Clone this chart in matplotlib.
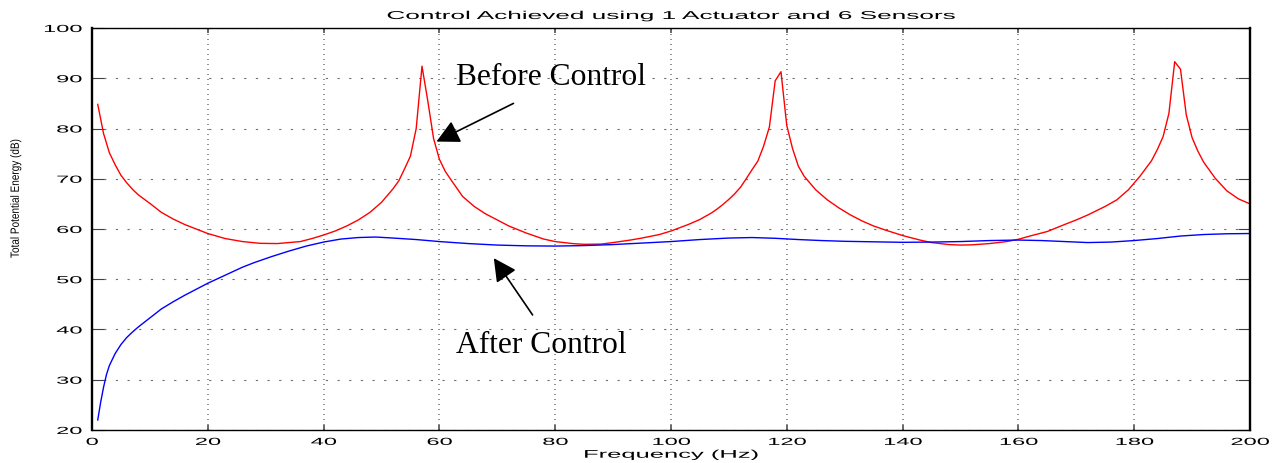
import matplotlib
matplotlib.use('Agg')
import matplotlib.pyplot as plt
from matplotlib.patheffects import AbstractPathEffect
from matplotlib.transforms import Affine2D


# Before control (red) - frequency (Hz) and total potential energy (dB)
freq_before = [1, 2, 3, 4, 5, 6, 7, 8, 10, 12, 14, 16, 18, 20, 23, 26, 29,
               32, 35, 36, 38, 40, 42, 44, 46, 48, 50, 52, 53, 54, 55, 56,
               57, 58, 59, 60, 61, 62, 64, 66, 68, 70, 72, 75, 78, 80, 83,
               85, 88, 90, 93, 95, 98, 100, 103, 105, 107, 108, 109, 110,
               111, 112, 113, 114, 115, 116, 117, 118, 119, 120, 121, 122,
               123, 125, 127, 129, 131, 133, 135, 137, 140, 143, 145, 148,
               150, 152, 155, 158, 160, 162, 165, 168, 170, 172, 175, 177,
               179, 181, 183, 184, 185, 186, 187, 188, 189, 190, 191, 192,
               194, 196, 198, 200]
energy_before = [84.8, 79.0, 75.2, 72.8, 70.7, 69.2, 67.9, 66.8, 65.1, 63.3,
                 62.0, 60.9, 60.0, 59.1, 58.1, 57.5, 57.15, 57.1, 57.4, 57.5,
                 58.1, 58.8, 59.6, 60.6, 61.8, 63.3, 65.3, 68.0, 69.6, 72.0,
                 74.5, 80.0, 92.4, 85.5, 78.0, 73.9, 71.5, 69.8, 66.5, 64.5,
                 63.0, 61.8, 60.6, 59.2, 58.0, 57.5, 57.1, 56.95, 57.0, 57.3,
                 57.8, 58.2, 58.9, 59.6, 60.9, 61.9, 63.2, 64.0, 64.9, 65.9,
                 67.0, 68.3, 70.0, 71.8, 73.5, 76.5, 80.3, 89.5, 91.3, 80.6,
                 76.0, 72.5, 70.5, 67.8, 65.8, 64.2, 62.8, 61.6, 60.6, 59.8,
                 58.7, 57.8, 57.3, 56.9, 56.8, 56.85, 57.1, 57.5, 57.95, 58.6,
                 59.5, 60.9, 61.8, 62.8, 64.5, 65.8, 67.8, 70.5, 73.6, 75.8,
                 78.4, 83.0, 93.3, 91.8, 82.7, 78.2, 75.5, 73.3, 70.1, 67.6,
                 66.0, 65.0]

# After control (blue)
freq_after = [1, 1.5, 2, 2.5, 3, 4, 5, 6, 7, 8, 10, 12, 14, 16, 18, 20, 23,
              26, 28, 31, 34, 37, 40, 43, 46, 49, 52, 56, 60, 65, 70, 75, 80,
              85, 90, 95, 100, 105, 110, 114, 118, 122, 126, 130, 135, 140,
              145, 150, 155, 160, 164, 168, 172, 176, 180, 184, 188, 192,
              196, 200]
energy_after = [22.0, 25.5, 28.5, 31.0, 32.8, 35.2, 37.0, 38.4, 39.5, 40.5,
                42.3, 44.1, 45.5, 46.8, 48.0, 49.2, 50.8, 52.4, 53.3, 54.5,
                55.6, 56.6, 57.4, 58.0, 58.3, 58.4, 58.2, 57.9, 57.5, 57.1,
                56.8, 56.65, 56.6, 56.7, 56.9, 57.2, 57.5, 57.9, 58.2, 58.3,
                58.15, 57.9, 57.7, 57.55, 57.45, 57.35, 57.4, 57.5, 57.7,
                57.8, 57.7, 57.5, 57.3, 57.4, 57.7, 58.1, 58.6, 58.9, 59.05,
                59.1]

x_ticks = [0, 20, 40, 60, 80, 100, 120, 140, 160, 180, 200]
y_ticks = [20, 30, 40, 50, 60, 70, 80, 90, 100]


class Stretch(AbstractPathEffect):
    """
    Path effect that widens text horizontally, like the stretched original.
    """
    def __init__(self, sx, anchor='center'):
        super().__init__()
        self.sx = sx
        self.anchor = anchor

    def draw_path(self, renderer, gc, tpath, affine, rgbFace=None):
        verts = affine.transform(tpath.vertices)
        if len(verts) == 0:
            return
        if self.anchor == 'left':
            xc = verts[:, 0].min()
        elif self.anchor == 'right':
            xc = verts[:, 0].max()
        else:
            xc = (verts[:, 0].min() + verts[:, 0].max()) / 2
        stretch = Affine2D().translate(-xc, 0).scale(self.sx, 1).translate(xc, 0)
        renderer.draw_path(gc, tpath, affine + stretch, rgbFace)


plt.rcParams['font.family'] = 'Liberation Sans'
plt.rcParams['lines.scale_dashes'] = False

fig = plt.figure(figsize=(12.79, 4.63), dpi=100)
ax = fig.add_axes([0.0719, 0.0713, 0.9054, 0.8682])

# Curves
ax.plot(freq_before, energy_before, color='#ff0000', linewidth=1.0)
ax.plot(freq_after, energy_after, color='#0000ff', linewidth=1.0)

ax.set_xlim(0, 200)
ax.set_ylim(20, 100)
ax.set_xticks(x_ticks)
ax.set_yticks(y_ticks)

# Dotted grid (vertical dots are tighter than the horizontal ones)
ax.set_axisbelow(True)
ax.xaxis.grid(True, color='#707070', linewidth=1.1,
              linestyle=(0, (0.7, 2.9)))
ax.yaxis.grid(True, color='#707070', linewidth=0.8,
              linestyle=(0, (1.6, 6.8)))

# Frame and inward ticks on every side
for side in ['left', 'right']:
    ax.spines[side].set_linewidth(1.7)
for side in ['top', 'bottom']:
    ax.spines[side].set_linewidth(1.0)
ax.tick_params(axis='x', direction='in', top=True, length=3.6, width=1.1,
               color='#404040', labelsize=7.4, pad=5)
ax.tick_params(axis='y', direction='in', right=True, length=8.8, width=0.8,
               color='#404040', labelsize=7.4, pad=7.2)

for lab in ax.get_xticklabels():
    lab.set_path_effects([Stretch(2.3, 'center')])
for lab in ax.get_yticklabels():
    lab.set_path_effects([Stretch(2.3, 'right')])

# Title and axis labels
title = ax.set_title('Control Achieved using 1 Actuator and 6 Sensors',
                     fontsize=8.2, pad=6.5)
title.set_path_effects([Stretch(2.3, 'center')])
xlab = ax.set_xlabel('Frequency (Hz)', fontsize=8.0, labelpad=2.0)
xlab.set_path_effects([Stretch(2.3, 'center')])
ylab = ax.set_ylabel('Total Potential Energy (dB)', fontsize=7.2)
ylab.set_va('center')
ax.yaxis.set_label_coords(-0.0662, 0.576)
ylab.set_path_effects([Stretch(1.2, 'center')])

# Annotations
arrow = dict(arrowstyle='-|>,head_length=0.7,head_width=0.36',
             mutation_scale=20, color='k', lw=1.2, shrinkA=0, shrinkB=0)
ax.text(62.9, 88.66, 'Before Control', family='Liberation Serif',
        fontsize=22.7, ha='left', va='baseline')
ax.annotate('', xy=(59.5, 77.4), xytext=(72.8, 85.0), arrowprops=arrow)
ax.text(62.9, 35.26, 'After Control', family='Liberation Serif',
        fontsize=22.7, ha='left', va='baseline')
ax.annotate('', xy=(69.4, 54.2), xytext=(76.1, 42.9), arrowprops=arrow)

fig.savefig('out.png', dpi=100, facecolor='white')
